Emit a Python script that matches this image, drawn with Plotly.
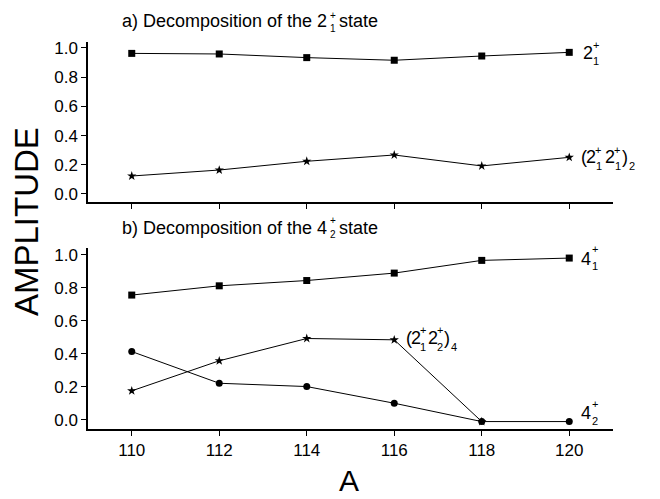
import plotly.graph_objects as go

# ---- data ----
A_vals = [110, 112, 114, 116, 118, 120]
top_21 = [0.963, 0.959, 0.934, 0.916, 0.945, 0.970]
top_2121 = [0.123, 0.164, 0.224, 0.267, 0.192, 0.251]
A_star_bot = [110, 112, 114, 116, 118]
bot_41 = [0.756, 0.812, 0.844, 0.889, 0.966, 0.980]
bot_2122 = [0.176, 0.358, 0.493, 0.485, -0.010]
bot_42 = [0.414, 0.222, 0.202, 0.101, -0.010, -0.010]
x_ticks = [110, 112, 114, 116, 118, 120]
y_ticks = [0.0, 0.2, 0.4, 0.6, 0.8, 1.0]
y_tick_text = ["0.0", "0.2", "0.4", "0.6", "0.8", "1.0"]

FONT = "Liberation Sans, Arial, Helvetica, sans-serif"
# page has an 8px body margin; size the figure to fill the rest of the window
OFF = 8
W, H = 660 - OFF, 499 - OFF
# plot area in page pixels: x 88..613, y 42..429
ML, MR, MT, MB = 88 - OFF, 660 - 613, 42 - OFF, 499 - 429
PW = W - ML - MR
PH = H - MT - MB


def px(x):  # page pixel -> paper
    return (x - 88) / PW


def py(y):
    return (429 - y) / PH


fig = go.Figure()


def add_series(x, y, symbol, size, xa, ya):
    fig.add_trace(go.Scatter(
        x=x, y=y, mode="lines+markers", xaxis=xa, yaxis=ya,
        line=dict(color="black", width=1),
        marker=dict(symbol=symbol, size=size, color="black"),
        showlegend=False, hoverinfo="skip"))


add_series(A_vals, top_21, "square", 7, "x", "y")
add_series(A_vals, top_2121, "star", 7, "x", "y")
add_series(A_vals, bot_41, "square", 7, "x2", "y2")
add_series(A_star_bot, bot_2122, "star", 7, "x2", "y2")
add_series(A_vals, bot_42, "circle", 7, "x2", "y2")

annotations = []


def label(anchor_x, anchor_y, xref, yref, pieces):
    for text, dx, dy, size in pieces:
        annotations.append(dict(
            x=anchor_x, y=anchor_y, xref=xref, yref=yref, text=text,
            showarrow=False, xanchor="center", yanchor="middle",
            xshift=dx, yshift=-dy, font=dict(family=FONT, size=size, color="black")))


def paper_text(text, x, y, size, xanchor="center", angle=0, yanchor="middle"):
    annotations.append(dict(
        x=px(x), y=py(y), xref="paper", yref="paper", text=text, showarrow=False,
        xanchor=xanchor, yanchor=yanchor, textangle=angle, borderpad=0,
        font=dict(family=FONT, size=size, color="black")))


BIG, SMALL = 18, 11
# curve labels
label(A_vals[-1], top_21[-1], "x", "y",
      [("2", 19, 1, BIG), ("+", 27, -7, SMALL), ("1", 27, 9, SMALL)])
label(A_vals[-1], top_2121[-1], "x", "y",
      [("(", 14.5, 0, BIG), ("2", 22, 0, BIG), ("+", 29, -7, SMALL), ("1", 30, 9, SMALL),
       ("2", 41, 0, BIG), ("+", 48, -7, SMALL), ("1", 49, 9, SMALL),
       (")", 56, 0, BIG), ("2", 63, 9, SMALL)])
label(A_vals[-1], bot_41[-1], "x2", "y2",
      [("4", 17, 1, BIG), ("+", 26, -9, SMALL), ("1", 26, 8, SMALL)])
label(A_vals[-1], bot_42[-1], "x2", "y2",
      [("4", 17, -9, BIG), ("+", 26, -18, SMALL), ("2", 26, -1, SMALL)])
label(A_star_bot[3], bot_2122[3], "x2", "y2",
      [("(", 15, -2, BIG), ("2", 22, -2, BIG), ("+", 29, -10, SMALL), ("1", 29, 7, SMALL),
       ("2", 39, -2, BIG), ("+", 46, -10, SMALL), ("2", 46, 7, SMALL),
       (")", 53, -2, BIG), ("4", 60, 7, SMALL)])

# panel titles
TS = 18
paper_text("a) Decomposition of the 2", 328, 21, TS, xanchor="right")
paper_text("+", 333, 15, 10)
paper_text("1", 333, 28, 10)
paper_text("state", 338, 21, TS, xanchor="left")
paper_text("b) Decomposition of the 4", 328, 228, TS, xanchor="right")
paper_text("+", 333, 220, 10)
paper_text("2", 333, 235, 10)
paper_text("state", 338, 228, TS, xanchor="left")

# axis titles
paper_text("AMPLITUDE", 26, 222, 33, angle=-90)
paper_text("A", 349, 498, 30, yanchor="bottom")

axis_common = dict(showgrid=False, zeroline=False, showline=True, linecolor="black",
                   linewidth=1.5, ticks="outside", ticklen=5, tickcolor="black",
                   tickwidth=1, tickfont=dict(family=FONT, size=17, color="black"))
xr = [109, 121]
yr = [-0.055, 1.041]
fig.update_layout(
    width=W, height=H, margin=dict(l=ML, r=MR, t=MT, b=MB),
    paper_bgcolor="white", plot_bgcolor="white",
    xaxis=dict(domain=[0, 1], anchor="y", range=xr, tickvals=x_ticks,
               showticklabels=False, **axis_common),
    yaxis=dict(domain=[py(202), 1], anchor="x", range=yr,
               tickvals=y_ticks, ticktext=y_tick_text, **axis_common),
    xaxis2=dict(domain=[0, 1], anchor="y2", range=xr, tickvals=x_ticks,
                **axis_common),
    yaxis2=dict(domain=[0, py(248)], anchor="x2", range=yr,
                tickvals=y_ticks, ticktext=y_tick_text, **axis_common),
    annotations=annotations,
)

fig.write_html("out.html")
